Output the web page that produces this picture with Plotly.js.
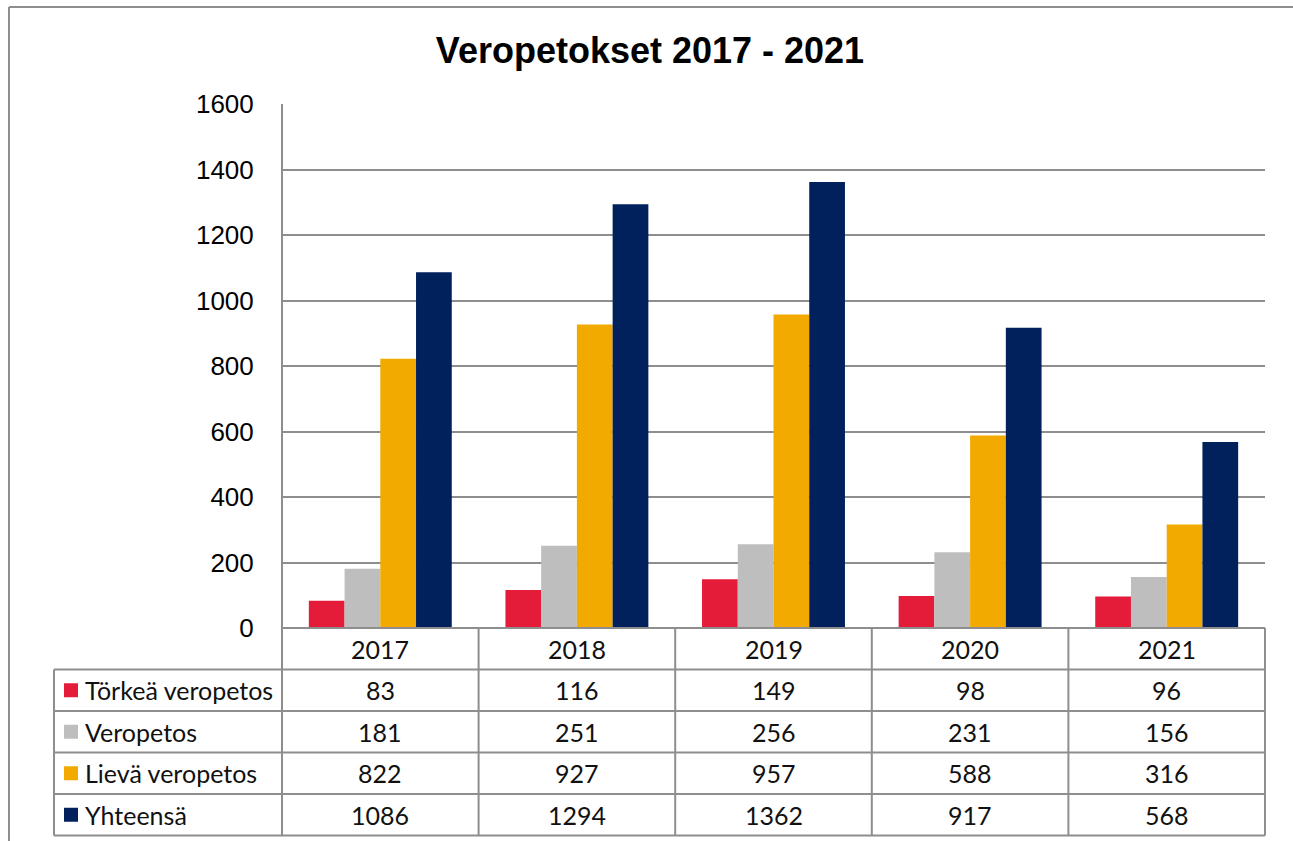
<!DOCTYPE html>
<html>
<head>
<meta charset="utf-8">
<script src="https://cdn.plot.ly/plotly-3.0.1.min.js"></script>
<style>html,body{margin:0;padding:0;background:#fff;}#chart{width:1293px;height:841px;}</style>
</head>
<body>
<div id="chart"></div>
<script>
// ---- data ----
const years = ["2017", "2018", "2019", "2020", "2021"];
const seriesNames = ["Törkeä veropetos", "Veropetos", "Lievä veropetos", "Yhteensä"];
const torkea = [83, 116, 149, 98, 96];
const veropetos = [181, 251, 256, 231, 156];
const lieva = [822, 927, 957, 588, 316];
const yhteensa = [1086, 1294, 1362, 917, 568];
const colors = ["#E41B39", "#BEBEBE", "#F2AA00", "#00215B"];
const yTicks = [0, 200, 400, 600, 800, 1000, 1200, 1400, 1600];
const titleText = "Veropetokset 2017 - 2021";

const seriesValues = [torkea, veropetos, lieva, yhteensa];

// ---- layout geometry (pixels) ----
const FIG_W = 1293, FIG_H = 841;
const L = 282, R = 1265, T = 104, B = 628;
const W = R - L, H = B - T;
const px = x => (x - L) / W;
const py = y => (B - y) / H;

const gridColor = "#8E8E8E";
const tableFont = {family: "Lato, 'Open Sans', sans-serif", size: 25, color: "#111"};

const traces = seriesNames.map((name, i) => ({
  type: "bar",
  name: name,
  x: years,
  y: seriesValues[i],
  marker: {color: colors[i], line: {width: 0}},
  hoverinfo: "none"
}));

const shapes = [];
const annotations = [];

// outer chart border (left and top)
shapes.push({type: "line", xref: "paper", yref: "paper", x0: px(9), x1: px(9), y0: py(7), y1: py(845), line: {color: gridColor, width: 2}});
shapes.push({type: "line", xref: "paper", yref: "paper", x0: px(9), x1: px(1300), y0: py(7), y1: py(7), line: {color: gridColor, width: 2}});

// table geometry
const headerTop = B, headerBottom = 669.5, rowH = 41.5;
const nRows = seriesNames.length;
const tableBottom = headerBottom + nRows * rowH;
const labelLeft = 54;
const lineStyle = {color: gridColor, width: 2};

// horizontal lines
shapes.push({type: "line", xref: "paper", yref: "paper", x0: px(L), x1: px(R), y0: py(headerTop), y1: py(headerTop), line: lineStyle});
for (let r = 0; r <= nRows; r++) {
  const yy = headerBottom + r * rowH;
  shapes.push({type: "line", xref: "paper", yref: "paper", x0: px(labelLeft), x1: px(R), y0: py(yy), y1: py(yy), line: lineStyle});
}
// vertical lines
shapes.push({type: "line", xref: "paper", yref: "paper", x0: px(labelLeft), x1: px(labelLeft), y0: py(headerBottom), y1: py(tableBottom), line: lineStyle});
for (let c = 0; c <= years.length; c++) {
  const xx = L + c * W / years.length;
  shapes.push({type: "line", xref: "paper", yref: "paper", x0: px(xx), x1: px(xx), y0: py(c === 0 ? T : headerTop), y1: py(tableBottom), line: lineStyle});
}

// header labels (category axis: positions are category indices)
years.forEach((yr, c) => {
  annotations.push({xref: "x", yref: "paper", x: c, y: py((headerTop + headerBottom) / 2), text: yr, showarrow: false, font: tableFont, xanchor: "center", yanchor: "middle"});
});

// rows
seriesNames.forEach((name, r) => {
  const yc = headerBottom + r * rowH + rowH / 2;
  shapes.push({type: "rect", xref: "paper", yref: "paper", x0: px(64), x1: px(78), y0: py(yc - 7), y1: py(yc + 7), fillcolor: colors[r], line: {width: 0}});
  annotations.push({xref: "paper", yref: "paper", x: px(83), y: py(yc), text: name, showarrow: false, font: tableFont, xanchor: "left", yanchor: "middle"});
  seriesValues[r].forEach((v, c) => {
    annotations.push({xref: "x", yref: "paper", x: c, y: py(yc), text: String(v), showarrow: false, font: tableFont, xanchor: "center", yanchor: "middle"});
  });
});

const layout = {
  width: FIG_W,
  height: FIG_H,
  paper_bgcolor: "#fff",
  plot_bgcolor: "#fff",
  margin: {l: L, r: FIG_W - R, t: T, b: FIG_H - B, pad: 0},
  showlegend: false,
  hovermode: false,
  barmode: "group",
  bargap: 0.273,
  bargroupgap: 0,
  title: {
    text: "<b>" + titleText + "</b>",
    font: {family: "'Liberation Sans', Arial, sans-serif", size: 36, color: "#000"},
    xref: "container", yref: "container",
    x: 650 / FIG_W, y: 1 - 50 / FIG_H,
    xanchor: "center", yanchor: "middle"
  },
  xaxis: {
    type: "category",
    categoryorder: "array",
    categoryarray: years,
    range: [-0.5, years.length - 0.5],
    autorange: false,
    showticklabels: false,
    showgrid: false,
    zeroline: false,
    showline: false,
    ticks: "",
    fixedrange: true
  },
  yaxis: {
    range: [0, 1600],
    autorange: false,
    tickvals: yTicks,
    ticktext: yTicks.map(String),
    showgrid: true,
    gridcolor: gridColor,
    gridwidth: 2,
    zeroline: false,
    showline: false,
    ticks: "outside",
    ticklen: 22,
    tickcolor: "rgba(0,0,0,0)",
    tickfont: {family: "'Liberation Sans', Arial, sans-serif", size: 26, color: "#000"},
    fixedrange: true
  },
  shapes: shapes,
  annotations: annotations
};

Plotly.newPlot("chart", traces, layout, {displayModeBar: false, staticPlot: true});
</script>
</body>
</html>
